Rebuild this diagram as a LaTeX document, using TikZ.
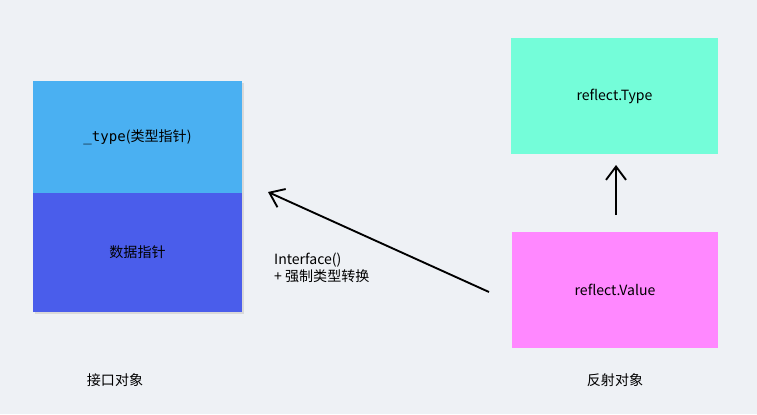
\documentclass[tikz,border=0pt]{standalone}
\usepackage{fontspec}
\setmainfont{Noto Sans CJK SC}
\newfontfamily\monofont{DejaVu Sans Mono}
\usetikzlibrary{positioning}
\definecolor{bgc}{HTML}{EEF1F5}
\definecolor{typec}{HTML}{4AB0F2}
\definecolor{datac}{HTML}{4A5DEB}
\definecolor{rtypec}{HTML}{74FDD9}
\definecolor{rvalc}{HTML}{FF88FF}
\tikzset{
  box/.style={minimum width=6.27cm, minimum height=3.48cm, inner sep=0pt, font=\large},
  lbl/.style={font=\large},
  arr/.style={-{Straight Barb[length=4mm,width=6mm]}, line width=1.6pt}
}
\usetikzlibrary{arrows.meta}
\begin{document}
\begin{tikzpicture}[x=0.03cm,y=-0.03cm]
  \fill[bgc] (0,0) rectangle (757,414);
  % interface object
  \fill[black!15] (35,83) rectangle (244,314);
  \node[box, fill=typec, minimum height=3.36cm] (type) at (137.5,137) {{\monofont \_type}(类型指针)};
  \node[box, fill=datac, minimum height=3.57cm] (data) at (137.5,252.5) {数据指针};
  % reflect objects
  \node[box, fill=rtypec, minimum width=6.21cm] (rtype) at (614.5,96) {reflect.Type};
  \node[box, fill=rvalc, minimum width=6.18cm] (rval) at (615,290) {reflect.Value};
  \coordinate (upS) at (616,215);
  \coordinate (upE) at (616,165);
  \draw[arr] (upS) -- (upE);
  \coordinate (dS) at (489,292);
  \coordinate (dE) at (268,192);
  \draw[arr] (dS) -- (dE);
  \node[lbl, anchor=west, align=left] (conv) at (270,268) {Interface()\\+ 强制类型转换};
  \node[lbl] (iface) at (115,380) {接口对象};
  \node[lbl] (refl) at (615,380) {反射对象};
\end{tikzpicture}
\end{document}
